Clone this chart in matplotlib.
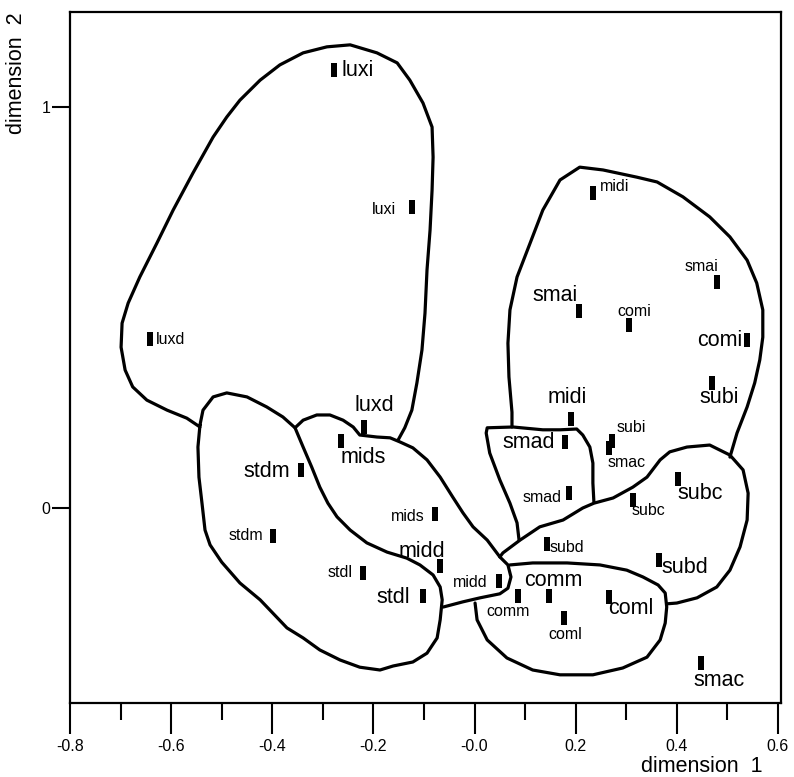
import matplotlib
matplotlib.use("Agg")
import matplotlib.pyplot as plt
from matplotlib.path import Path
import numpy as np

plt.rcParams['font.family'] = ['Liberation Sans', 'DejaVu Sans']

# ---------------- data ----------------
labels = ["luxi", "luxi", "luxd", "luxd", "mids", "stdm", "stdm", "mids",
          "midd", "stdl", "stdl", "midd", "comm", "comm", "coml", "coml",
          "smac", "subd", "subd", "subc", "subc", "smad", "smad", "smac",
          "subi", "midi", "subi", "comi", "comi", "smai", "smai", "midi"]
dim1 = [-0.278, -0.124, -0.642, -0.219, -0.264, -0.343, -0.399, -0.078,
        -0.068, -0.221, -0.102, 0.048, 0.086, 0.147, 0.177, 0.266,
        0.448, 0.365, 0.143, 0.313, 0.402, 0.187, 0.179, 0.266,
        0.272, 0.191, 0.469, 0.539, 0.305, 0.206, 0.479, 0.234]
dim2 = [1.092, 0.751, 0.421, 0.202, 0.167, 0.095, -0.070, -0.015,
        -0.145, -0.162, -0.219, -0.182, -0.219, -0.219, -0.274, -0.222,
        -0.387, -0.130, -0.090, 0.020, 0.072, 0.037, 0.165, 0.150,
        0.167, 0.222, 0.312, 0.419, 0.456, 0.491, 0.564, 0.786]
# condition: "L" = large label set, "S" = small label set
condition = ["L", "S", "S", "L", "L", "L", "S", "S",
             "L", "S", "L", "S", "S", "L", "S", "L",
             "L", "L", "S", "S", "L", "S", "L", "S",
             "S", "L", "L", "L", "S", "L", "S", "S"]

# region outlines (data coordinates)
luxi_x = [-0.543, -0.569, -0.608, -0.648, -0.676, -0.691, -0.699, -0.697, -0.685, -0.662,
          -0.628, -0.596, -0.557, -0.517, -0.490, -0.464, -0.424, -0.385, -0.339, -0.292,
          -0.246, -0.193, -0.153, -0.128, -0.102, -0.084, -0.082, -0.084, -0.088, -0.094,
          -0.098, -0.104, -0.114, -0.124, -0.138, -0.151]
luxi_y = [0.202, 0.224, 0.244, 0.269, 0.302, 0.344, 0.401, 0.461, 0.511, 0.576,
          0.661, 0.743, 0.835, 0.925, 0.975, 1.017, 1.067, 1.105, 1.135, 1.150,
          1.155, 1.135, 1.110, 1.067, 1.010, 0.950, 0.875, 0.793, 0.693, 0.594,
          0.486, 0.394, 0.312, 0.244, 0.200, 0.170]

std_x = [-0.543, -0.537, -0.517, -0.490, -0.450, -0.411, -0.379, -0.355, -0.339, -0.322,
         -0.306, -0.290, -0.272, -0.246, -0.213, -0.173, -0.134, -0.108, -0.082, -0.068,
         -0.064, -0.068, -0.074, -0.094, -0.122, -0.161, -0.187, -0.227, -0.266, -0.306,
         -0.339, -0.371, -0.399, -0.424, -0.464, -0.500, -0.523, -0.533, -0.539, -0.545,
         -0.547, -0.543]
std_y = [0.207, 0.244, 0.277, 0.287, 0.277, 0.252, 0.227, 0.200, 0.152, 0.102,
         0.052, 0.012, -0.022, -0.055, -0.087, -0.110, -0.125, -0.142, -0.167, -0.197,
         -0.229, -0.279, -0.324, -0.362, -0.384, -0.394, -0.404, -0.397, -0.379, -0.354,
         -0.324, -0.299, -0.262, -0.229, -0.187, -0.135, -0.092, -0.055, 0.012, 0.077,
         0.152, 0.207]

mid_x = [-0.355, -0.339, -0.312, -0.286, -0.260, -0.240, -0.227, -0.193, -0.167, -0.148,
         -0.122, -0.094, -0.068, -0.043, -0.023, -0.003, 0.025, 0.050, 0.066, 0.072,
         0.066, 0.050, 0.011, -0.023, -0.062]
mid_y = [0.200, 0.219, 0.232, 0.232, 0.219, 0.202, 0.182, 0.177, 0.175, 0.165,
         0.150, 0.120, 0.077, 0.027, -0.012, -0.047, -0.080, -0.122, -0.142, -0.172,
         -0.200, -0.214, -0.224, -0.234, -0.247]

upper_x = [0.074, 0.074, 0.068, 0.066, 0.070, 0.084, 0.110, 0.135, 0.169, 0.208,
           0.254, 0.321, 0.361, 0.412, 0.465, 0.505, 0.539, 0.558, 0.570, 0.570,
           0.564, 0.554, 0.539, 0.519, 0.505]
upper_y = [0.202, 0.239, 0.327, 0.411, 0.494, 0.576, 0.661, 0.743, 0.818, 0.850,
           0.843, 0.825, 0.813, 0.776, 0.726, 0.676, 0.618, 0.561, 0.494, 0.426,
           0.369, 0.312, 0.252, 0.187, 0.127]

smad_x = [0.088, 0.084, 0.070, 0.050, 0.030, 0.023, 0.025, 0.076, 0.135, 0.169,
          0.202, 0.214, 0.228, 0.234, 0.234, 0.236]
smad_y = [-0.080, -0.037, 0.012, 0.070, 0.137, 0.187, 0.200, 0.202, 0.195, 0.195,
          0.197, 0.182, 0.152, 0.112, 0.062, 0.015]

sub_x = [0.050, 0.056, 0.090, 0.129, 0.175, 0.214, 0.236, 0.274, 0.313, 0.341,
         0.367, 0.386, 0.420, 0.465, 0.505, 0.531, 0.541, 0.539, 0.525, 0.505,
         0.479, 0.440, 0.400, 0.380]
sub_y = [-0.122, -0.112, -0.080, -0.047, -0.030, 0.000, 0.012, 0.025, 0.052, 0.077,
         0.120, 0.140, 0.152, 0.157, 0.132, 0.095, 0.037, -0.030, -0.097, -0.155,
         -0.197, -0.224, -0.237, -0.239]

com_x = [0.070, 0.115, 0.183, 0.248, 0.301, 0.333, 0.363, 0.377, 0.380, 0.377,
         0.367, 0.341, 0.293, 0.234, 0.169, 0.115, 0.064, 0.025, 0.005, 0.001]
com_y = [-0.142, -0.137, -0.137, -0.142, -0.155, -0.172, -0.192, -0.212, -0.247, -0.287,
         -0.329, -0.372, -0.399, -0.416, -0.416, -0.404, -0.374, -0.329, -0.279, -0.237]

x_major = [-0.8, -0.6, -0.4, -0.2, 0.0, 0.2, 0.4, 0.6]
x_major_labels = ["-0.8", "-0.6", "-0.4", "-0.2", "-0.0", "0.2", "0.4", "0.6"]
x_minor = [-0.7, -0.5, -0.3, -0.1, 0.1, 0.3, 0.5]
y_major = [0, 1]
y_major_labels = ["0", "1"]

# ---------------- layout (label offsets in pixels: dx right, dy down) -------------
label_offsets = [(8, 0, 'left'), (-16, 3, 'right'), (6, 0, 'left'), (11, -21, 'center'),
                 (0, 16, 'left'), (-11, 2, 'right'), (-10, -1, 'right'), (-10, 2, 'right'),
                 (-18, -15, 'center'), (-10, 0, 'right'), (-13, 2, 'right'), (-11, 2, 'right'),
                 (-10, 16, 'center'), (4, -15, 'center'), (1, 17, 'center'), (-1, 11, 'left'),
                 (18, 17, 'center'), (2, 7, 'left'), (3, 3, 'left'), (-1, 11, 'left'),
                 (0, 14, 'left'), (-8, 4, 'right'), (-10, 1, 'right'), (-1, 15, 'left'),
                 (4, -14, 'left'), (-4, -21, 'center'), (7, 15, 'center'), (-5, 1, 'right'),
                 (5, -14, 'center'), (-1, -16, 'right'), (-15, -15, 'center'), (7, -6, 'left')]
font_size = {"L": 15.5, "S": 11.5}

DPI = 100
fig = plt.figure(figsize=(7.94, 7.77), dpi=DPI)
ax = fig.add_axes([70 / 794, 1 - 703 / 777, (780.5 - 70) / 794, (703 - 12) / 777])
ax.set_xlim(-0.8, 0.605)
ax.set_ylim((508 - 703) / 401, (508 - 12) / 401)

line_kw = dict(color='black', lw=2.3, solid_joinstyle='round', solid_capstyle='round')
for xs, ys in [(luxi_x, luxi_y), (std_x, std_y), (mid_x, mid_y), (upper_x, upper_y),
               (smad_x, smad_y), (sub_x, sub_y), (com_x, com_y)]:
    ax.plot(xs, ys, **line_kw)

rect = Path([(-0.18, -0.5), (0.18, -0.5), (0.18, 0.5), (-0.18, 0.5), (-0.18, -0.5)],
            [Path.MOVETO, Path.LINETO, Path.LINETO, Path.LINETO, Path.CLOSEPOLY])
ax.plot(dim1, dim2, ls='none', marker=rect, ms=10.5, mew=0, color='black')

k = 72.0 / DPI
for lab, x, y, c, (dx, dy, ha) in zip(labels, dim1, dim2, condition, label_offsets):
    ax.annotate(lab, (x, y), xytext=(dx * k, -dy * k), textcoords='offset points',
                ha=ha, va='center', fontsize=font_size[c], color='black')

for s in ax.spines.values():
    s.set_linewidth(1.6)

ax.set_xticks(x_major)
ax.set_xticklabels(x_major_labels)
ax.set_xticks(x_minor, minor=True)
ax.set_yticks(y_major)
ax.set_yticklabels(y_major_labels)
ax.tick_params(axis='x', which='major', length=22, width=1.5, direction='out', pad=4,
               labelsize=11.5)
ax.tick_params(axis='x', which='minor', length=12, width=1.5, direction='out')
ax.tick_params(axis='y', which='major', length=13, width=1.5, direction='out', pad=1,
               labelsize=11.5)

fig.text(702 / 794, 1 - 766 / 777, "dimension  1", ha='center', va='center', fontsize=15.5)
fig.text(17 / 794, 1 - 73 / 777, "dimension  2", ha='center', va='center', fontsize=15.5,
         rotation=90)

fig.savefig("out.png", dpi=DPI)
